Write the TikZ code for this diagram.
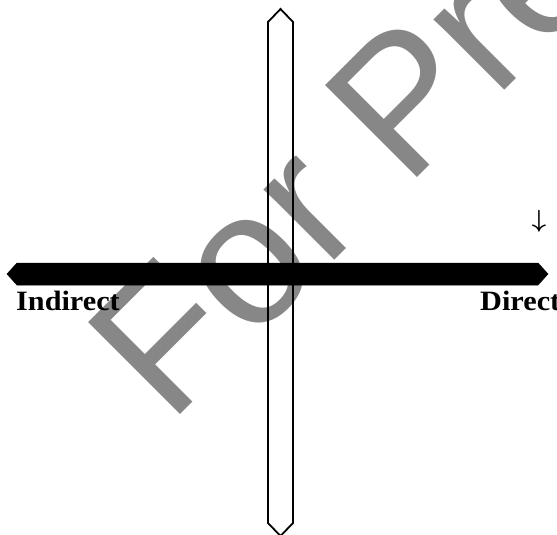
\documentclass[tikz,border=0pt]{standalone}
\usepackage{amsmath,bm}
\usepackage{fontspec}
\setmainfont{Liberation Serif}
\newfontfamily\lblfont[FakeStretch=1.08]{Liberation Serif}
\newfontfamily\wmfont{Liberation Sans}
\usetikzlibrary{positioning}

\begin{document}
\begin{tikzpicture}[
    x=1pt, y=-1pt,
    lbl/.style={inner sep=0pt, anchor=base west, font=\fontsize{28}{30}\lblfont\bfseries},
    wmark/.style={inner sep=0pt, anchor=base west, text=black!47, rotate=45,
                  font=\fontsize{189}{189}\wmfont},
    vbar/.style={draw=black, line width=1.8pt, line join=miter},
    hbar/.style={fill=black, draw=black, line width=0.5pt},
  ]
    \useasboundingbox (0,0) rectangle (557,535);
    \clip (0,0) rectangle (557,535);

    % watermark under everything
    \node[wmark] (wm) at (169,426) {For Preview};

    % vertical (hollow) bar
    \draw[vbar] (268,22) -- (280.5,9) -- (293,22) -- (293,523) -- (280.5,536) -- (268,523) -- cycle;

    % horizontal (solid) bar
    \draw[hbar] (7,274) -- (17,263) -- (538,263) -- (548,274) -- (538,285) -- (17,285) -- cycle;

    \node[lbl] (indirect) at (16,310) {Indirect};
    \node[lbl] (direct)   at (480,310) {Direct};
    \node[inner sep=0pt, font=\fontsize{28}{28}\selectfont] (down) at (539,221) {$\bm{\downarrow}$};
  \end{tikzpicture}
\end{document}
